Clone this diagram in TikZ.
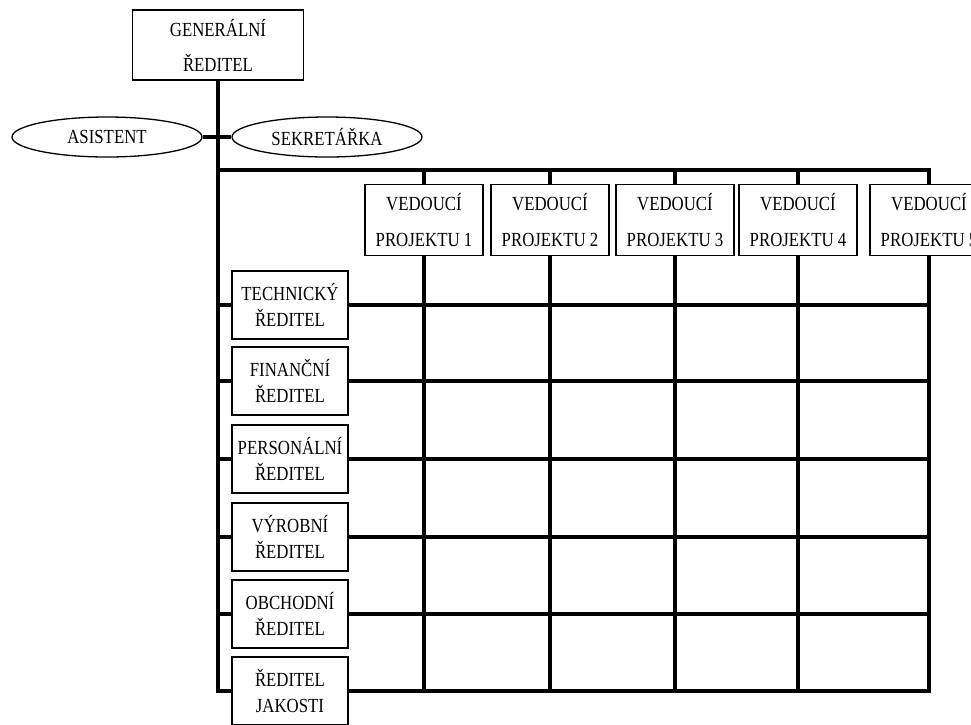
\documentclass[tikz,border=0pt]{standalone}
\usepackage{fontspec}
\setmainfont{Liberation Serif}[FakeStretch=0.84]
\usetikzlibrary{shapes.geometric}
\tikzset{
  box/.style={draw, line width=1.3pt, fill=white, inner sep=0pt, align=center, font=\fontsize{20}{35}\selectfont},
  lbox/.style={box, minimum width=116pt, minimum height=68pt, font=\fontsize{20}{26}\selectfont},
  pbox/.style={box, minimum width=118pt, minimum height=71pt, font=\fontsize{20}{36}\selectfont},
  oval/.style={ellipse, draw, line width=1.3pt, fill=white, minimum width=190pt, minimum height=40pt, inner sep=0pt, font=\fontsize{20}{24}\selectfont},
  conn/.style={line width=4pt}
}
\begin{document}
\begin{tikzpicture}[x=1pt,y=-1pt]
\useasboundingbox (0,0) rectangle (971,724);
\node[box, minimum width=171pt, minimum height=70pt] (gd) at (218,45) {GENERÁLNÍ\\ŘEDITEL};
\node[oval] (as) at (107,137) {ASISTENT};
\node[oval] (se) at (327,137) {SEKRETÁŘKA};
\foreach \i/\x in {1/424,2/550,3/675,4/798,5/929}
  \node[pbox] (p\i) at (\x,220) {VEDOUCÍ\\PROJEKTU \i};
\node[lbox] (l1) at (290,305) {TECHNICKÝ\\ŘEDITEL};
\node[lbox] (l2) at (290,381) {FINANČNÍ\\ŘEDITEL};
\node[lbox] (l3) at (290,459) {PERSONÁLNÍ\\ŘEDITEL};
\node[lbox] (l4) at (290,537) {VÝROBNÍ\\ŘEDITEL};
\node[lbox] (l5) at (290,614) {OBCHODNÍ\\ŘEDITEL};
\node[lbox] (l6) at (290,691) {ŘEDITEL\\JAKOSTI};
\coordinate (bus) at (218,170);
\draw[conn] (gd.south) |- (l6.west);
\draw[conn] (as.east) -- (se.west);
\draw[conn] (bus) -| (p5.north);
\foreach \i in {1,...,4} {
  \draw[conn] (p\i.north) -- (p\i.north |- bus);
  \draw[conn] (p\i.south) -- (p\i.south |- l6.east);
}
\draw[conn] (l6.east) -| (p5.south);
\foreach \i in {1,...,5} {
  \draw[conn] (l\i.west -| bus) -- (l\i.west);
  \draw[conn] (l\i.east) -- (l\i.east -| p5.south);
}
\end{tikzpicture}
\end{document}
